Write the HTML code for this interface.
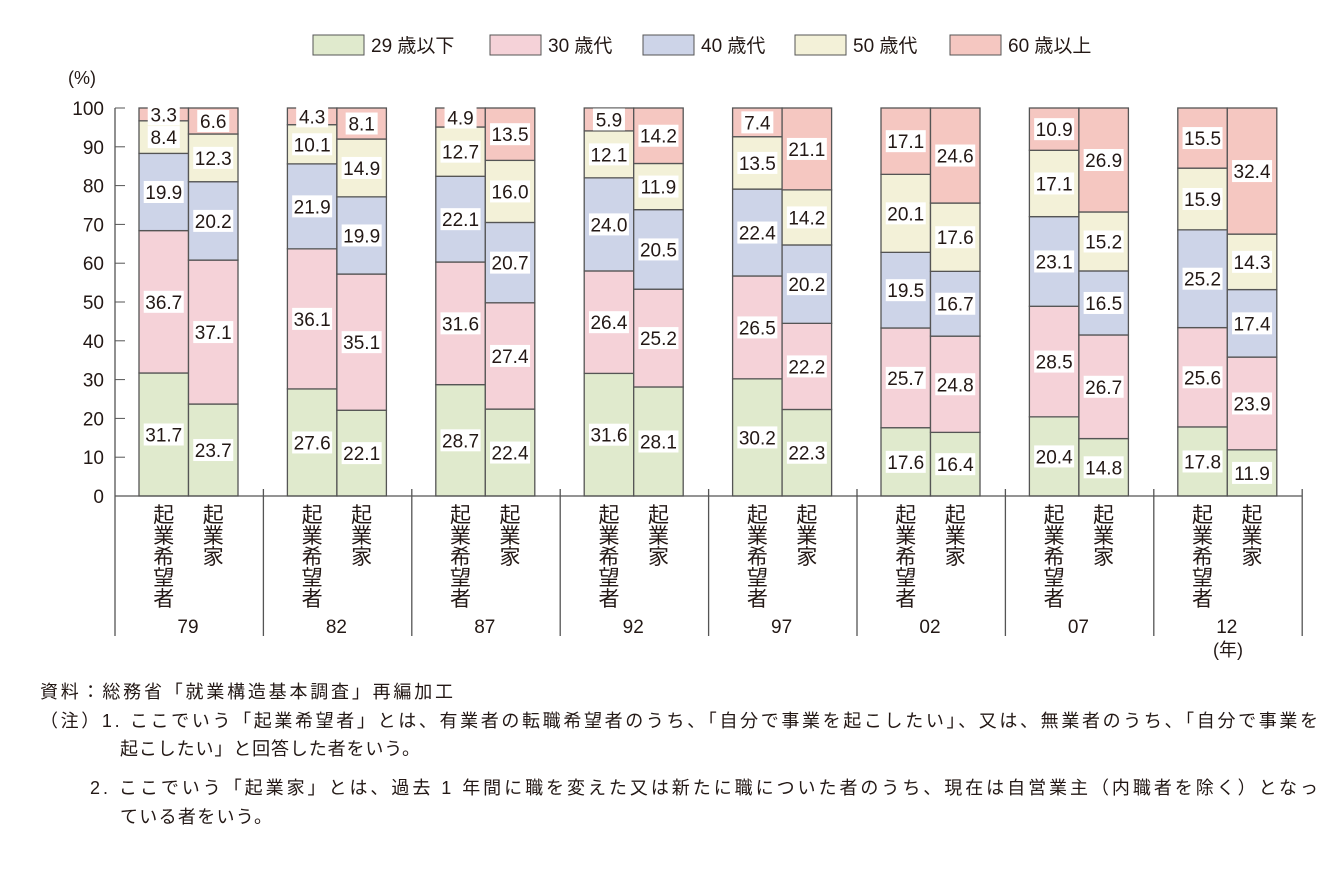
<!DOCTYPE html><html><head><meta charset="utf-8"><style>body{margin:0;background:#fff}svg text{font-family:"Liberation Sans","Noto Sans CJK JP",sans-serif;fill:#231815}</style></head><body>
<svg id="s" width="1344" height="876" xmlns="http://www.w3.org/2000/svg"></svg>
<script>
const d=[["79",[31.7,36.7,19.9,8.4,3.3],[23.7,37.1,20.2,12.3,6.6]],["82",[27.6,36.1,21.9,10.1,4.3],[22.1,35.1,19.9,14.9,8.1]],["87",[28.7,31.6,22.1,12.7,4.9],[22.4,27.4,20.7,16.0,13.5]],["92",[31.6,26.4,24.0,12.1,5.9],[28.1,25.2,20.5,11.9,14.2]],["97",[30.2,26.5,22.4,13.5,7.4],[22.3,22.2,20.2,14.2,21.1]],["02",[17.6,25.7,19.5,20.1,17.1],[16.4,24.8,16.7,17.6,24.6]],["07",[20.4,28.5,23.1,17.1,10.9],[14.8,26.7,16.5,15.2,26.9]],["12",[17.8,25.6,25.2,15.9,15.5],[11.9,23.9,17.4,14.3,32.4]]];
const C=["#e0eacd","#f5d2d8","#cdd4e8","#f3f1d8","#f5c7c1"];
const y0=496,k=3.88;let h="";
const Y=v=>y0-v*k;
for(let i=0;i<=10;i++){let y=Y(i*10);h+=`<line x1="115" y1="${y}" x2="125" y2="${y}" stroke="#555"/><text x="104" y="${y+7}" font-size="19" text-anchor="end">${i*10}</text>`;}
h+=`<text x="68" y="84" font-size="18">(%)</text>`;
d.forEach((g,gi)=>{[g[1],g[2]].forEach((arr,bi)=>{let x=139+gi*148.4+bi*49.5,c=0;let labs="";arr.forEach((v,si)=>{let t=Y(c),n=si==4?100:Math.min(100,c+v);let top=Y(n);h+=`<rect x="${x}" y="${top}" width="49.5" height="${t-top}" fill="${C[si]}" stroke="#555" stroke-width="1.3"/>`;let cy=(t+top)/2;let s=v.toFixed(1);let w=s.length>3?40:32;labs+=`<rect x="${x+24.75-w/2}" y="${cy-11}" width="${w}" height="22" fill="#fff"/><text x="${x+24.75}" y="${cy+7}" font-size="19" text-anchor="middle">${s}</text>`;c=n;});h+=labs;
let wd=bi==0?"起業希望者":"起業家";[...wd].forEach((ch,ci)=>{h+=`<text x="${x+24.75}" y="${522+ci*21}" font-size="21" text-anchor="middle">${ch}</text>`;});});
h+=`<text x="${188+gi*148.4}" y="633" font-size="19" text-anchor="middle">${g[0]}</text>`;});
for(let i=0;i<=8;i++){let x=115+i*148.4;h+=`<line x1="${x}" y1="${i==0?108:489}" x2="${x}" y2="636" stroke="#555" stroke-width="1.3"/>`;}
h+=`<line x1="115" y1="496" x2="1302" y2="496" stroke="#555" stroke-width="1.3"/>`;
h+=`<text x="1228" y="656" font-size="18" text-anchor="middle">(年)</text>`;
const L=[["29 歳以下",313],["30 歳代",490],["40 歳代",643],["50 歳代",795],["60 歳以上",950]];
L.forEach((l,i)=>{h+=`<rect x="${l[1]}" y="35" width="51" height="20" fill="${C[i]}" stroke="#555"/><text x="${l[1]+58}" y="52" font-size="19">${l[0]}</text>`;});
const N=[[40,698,"資料：総務省「就業構造基本調査」再編加工",413],[40,727,"（注）1.  ここでいう「起業希望者」とは、有業者の転職希望者のうち、「自分で事業を起こしたい」、又は、無業者のうち、「自分で事業を",1278],[120,755,"起こしたい」と回答した者をいう。",300],[90,794,"2.  ここでいう「起業家」とは、過去 1 年間に職を変えた又は新たに職についた者のうち、現在は自営業主（内職者を除く）となっ",1228],[120,823,"ている者をいう。",152]];
N.forEach(n=>{h+=`<text x="${n[0]}" y="${n[1]}" font-size="18" textLength="${n[3]}" lengthAdjust="spacing">${n[2]}</text>`;});
document.getElementById("s").innerHTML=h;
</script></body></html>
